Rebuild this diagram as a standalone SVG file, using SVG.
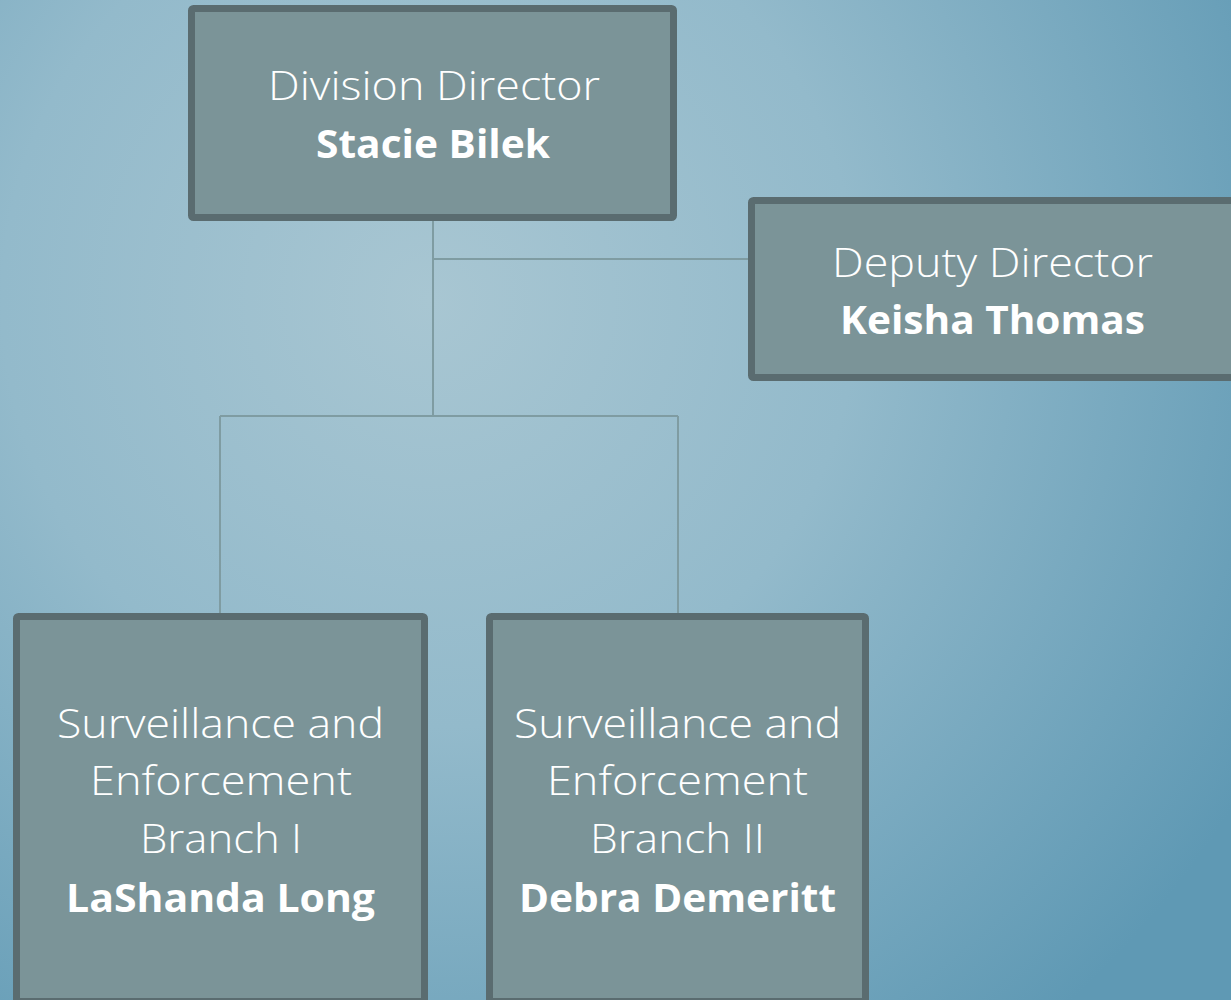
<svg xmlns="http://www.w3.org/2000/svg" width="1231" height="1000" viewBox="0 0 1231 1000">
<defs>
<radialGradient id="bg" cx="430" cy="300" r="950" gradientUnits="userSpaceOnUse">
<stop offset="0" stop-color="#a8c6d2"/>
<stop offset="0.45" stop-color="#93bacb"/>
<stop offset="1" stop-color="#5f99b4"/>
</radialGradient>
<style>
.box{fill:#7b9498;stroke:#5a6c70;stroke-width:7;}
.t{font-family:"Open Sans","Noto Sans","DejaVu Sans",sans-serif;font-size:40px;fill:#ffffff;text-anchor:middle;}
.r{font-weight:300;}
.b{font-weight:700;}
.c{stroke:#7f9ca2;stroke-width:2;fill:none;}
</style>
</defs>
<rect x="0" y="0" width="1231" height="1000" fill="url(#bg)"/>
<g id="connectors">
<path class="c" d="M433 221 V416"/>
<path class="c" d="M433 259 H750"/>
<path class="c" d="M220 416 H678"/>
<path class="c" d="M220 416 V617"/>
<path class="c" d="M678 416 V617"/>
</g>
<g id="node-director">
<rect class="box" x="191.5" y="8.5" width="482" height="209" rx="2"/>
<text class="t r" x="434" y="100" textLength="332" lengthAdjust="spacingAndGlyphs">Division Director</text>
<text class="t b" x="433" y="158" textLength="234" lengthAdjust="spacingAndGlyphs">Stacie Bilek</text>
</g>
<g id="node-deputy">
<rect class="box" x="751.5" y="200.5" width="484" height="177" rx="2"/>
<text class="t r" x="992.5" y="277" textLength="321" lengthAdjust="spacingAndGlyphs">Deputy Director</text>
<text class="t b" x="992.5" y="334" textLength="305" lengthAdjust="spacingAndGlyphs">Keisha Thomas</text>
</g>
<g id="node-branch1">
<rect class="box" x="16.5" y="616.5" width="408" height="385" rx="2"/>
<text class="t r" x="220.5" y="738" textLength="327" lengthAdjust="spacingAndGlyphs">Surveillance and</text>
<text class="t r" x="221" y="795" textLength="262" lengthAdjust="spacingAndGlyphs">Enforcement</text>
<text class="t r" x="221" y="853" textLength="162" lengthAdjust="spacingAndGlyphs">Branch I</text>
<text class="t b" x="220.5" y="912" textLength="309" lengthAdjust="spacingAndGlyphs">LaShanda Long</text>
</g>
<g id="node-branch2">
<rect class="box" x="489.5" y="616.5" width="376" height="385" rx="2"/>
<text class="t r" x="677.5" y="738" textLength="327" lengthAdjust="spacingAndGlyphs">Surveillance and</text>
<text class="t r" x="677.5" y="795" textLength="261" lengthAdjust="spacingAndGlyphs">Enforcement</text>
<text class="t r" x="677.5" y="853" textLength="175" lengthAdjust="spacingAndGlyphs">Branch II</text>
<text class="t b" x="677.5" y="912" textLength="317" lengthAdjust="spacingAndGlyphs">Debra Demeritt</text>
</g>
</svg>
